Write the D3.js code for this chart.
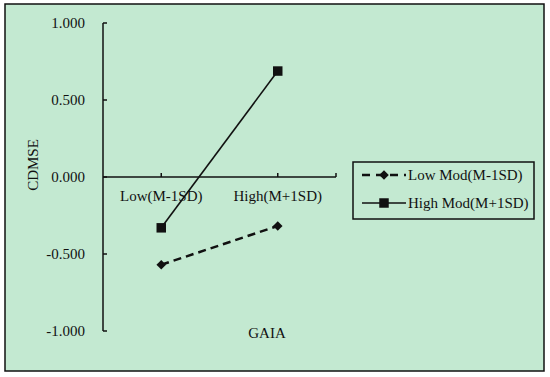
<!DOCTYPE html>
<html>
<head>
<meta charset="utf-8">
<script src="https://cdn.jsdelivr.net/npm/d3@7"></script>
<style>
  body { margin: 0; background: #fff; }
</style>
</head>
<body>
<div id="chart"></div>
<script>
// Data
const categories = ["Low(M-1SD)", "High(M+1SD)"];
const seriesNames = ["Low Mod(M-1SD)", "High Mod(M+1SD)"];
const lowModValues = [-0.57, -0.318];
const highModValues = [-0.33, 0.688];
const yTicks = [1, 0.5, 0, -0.5, -1];

const width = 550, height = 377;
const serif = "'Liberation Serif', 'Times New Roman', serif";

const svg = d3.select("#chart").append("svg")
  .attr("width", width)
  .attr("height", height)
  .style("font-family", serif);

// Background + outer border
svg.append("rect")
  .attr("x", 5).attr("y", 4)
  .attr("width", 539).attr("height", 367)
  .attr("fill", "#c3e9d1")
  .attr("stroke", "#111")
  .attr("stroke-width", 1.5);

// Scales
const x = d3.scaleBand().domain(categories).range([103, 336]);
const y = d3.scaleLinear().domain([-1, 1]).range([331, 23]);

// Y axis
const yAxis = svg.append("g").attr("transform", "translate(103,0)");
yAxis.append("line")
  .attr("x1", 0).attr("x2", 0)
  .attr("y1", y(1)).attr("y2", y(-1))
  .attr("stroke", "#111").attr("stroke-width", 1.5);
yAxis.selectAll(".tick").data(yTicks).enter().append("line")
  .attr("x1", 0).attr("x2", 4)
  .attr("y1", d => y(d)).attr("y2", d => y(d))
  .attr("stroke", "#111").attr("stroke-width", 1.5);
svg.selectAll(".ylab").data(yTicks).enter().append("text")
  .attr("x", 85)
  .attr("y", d => y(d))
  .attr("dy", "0.35em")
  .attr("text-anchor", "end")
  .attr("font-size", 15)
  .attr("fill", "#111")
  .text(d => d3.format(".3f")(d).replace("−", "-"));

// X axis at y = 0
const x0 = y(0);
svg.append("line")
  .attr("x1", 103).attr("x2", 336)
  .attr("y1", x0).attr("y2", x0)
  .attr("stroke", "#111").attr("stroke-width", 1.5);
const xTickPos = categories.map(c => x(c) + x.bandwidth() / 2).concat([336]);
svg.selectAll(".xtick").data(xTickPos).enter().append("line")
  .attr("x1", d => d).attr("x2", d => d)
  .attr("y1", x0).attr("y2", x0 - 4)
  .attr("stroke", "#111").attr("stroke-width", 1.5);
svg.selectAll(".xlab").data(categories).enter().append("text")
  .attr("x", d => x(d) + x.bandwidth() / 2)
  .attr("y", x0 + 24)
  .attr("text-anchor", "middle")
  .attr("font-size", 15)
  .attr("fill", "#111")
  .text(d => d);

// Axis titles
svg.append("text")
  .attr("transform", "translate(38,165) rotate(-90)")
  .attr("text-anchor", "middle")
  .attr("font-size", 15)
  .attr("fill", "#111")
  .text("CDMSE");
svg.append("text")
  .attr("x", 267).attr("y", 338)
  .attr("text-anchor", "middle")
  .attr("font-size", 15)
  .attr("fill", "#111")
  .text("GAIA");

// Lines
const line = d3.line()
  .x((d, i) => x(categories[i]) + x.bandwidth() / 2)
  .y(d => y(d));

svg.append("path").datum(lowModValues)
  .attr("d", line)
  .attr("fill", "none")
  .attr("stroke", "#111")
  .attr("stroke-width", 2.5)
  .attr("stroke-dasharray", "8,5");

svg.append("path").datum(highModValues)
  .attr("d", line)
  .attr("fill", "none")
  .attr("stroke", "#111")
  .attr("stroke-width", 1.6);

// Markers
const diamond = d3.symbol().type(d3.symbolSquare).size(46);
const square = d3.symbol().type(d3.symbolSquare).size(90);

svg.selectAll(".dmark").data(lowModValues).enter().append("path")
  .attr("d", diamond)
  .attr("transform", (d, i) => `translate(${x(categories[i]) + x.bandwidth() / 2},${y(d)}) rotate(45)`)
  .attr("fill", "#111");

svg.selectAll(".smark").data(highModValues).enter().append("path")
  .attr("d", square)
  .attr("transform", (d, i) => `translate(${x(categories[i]) + x.bandwidth() / 2},${y(d)})`)
  .attr("fill", "#111");

// Legend
const legend = svg.append("g");
legend.append("rect")
  .attr("x", 353).attr("y", 162)
  .attr("width", 181).attr("height", 57)
  .attr("fill", "none")
  .attr("stroke", "#111")
  .attr("stroke-width", 1.5);

const legRows = [
  { name: seriesNames[0], dash: "8,6", sw: 2.5, sym: diamond, rot: "rotate(45)", yy: 175 },
  { name: seriesNames[1], dash: null, sw: 1.6, sym: square, rot: "", yy: 203 }
];
legRows.forEach(r => {
  legend.append("line")
    .attr("x1", 362).attr("x2", 406)
    .attr("y1", r.yy).attr("y2", r.yy)
    .attr("stroke", "#111")
    .attr("stroke-width", r.sw)
    .attr("stroke-dasharray", r.dash);
  legend.append("path")
    .attr("d", r.sym)
    .attr("transform", `translate(384,${r.yy}) ${r.rot}`)
    .attr("fill", "#111");
  legend.append("text")
    .attr("x", 408).attr("y", r.yy)
    .attr("dy", "0.35em")
    .attr("font-size", 15)
    .attr("fill", "#111")
    .text(r.name);
});
</script>
</body>
</html>
